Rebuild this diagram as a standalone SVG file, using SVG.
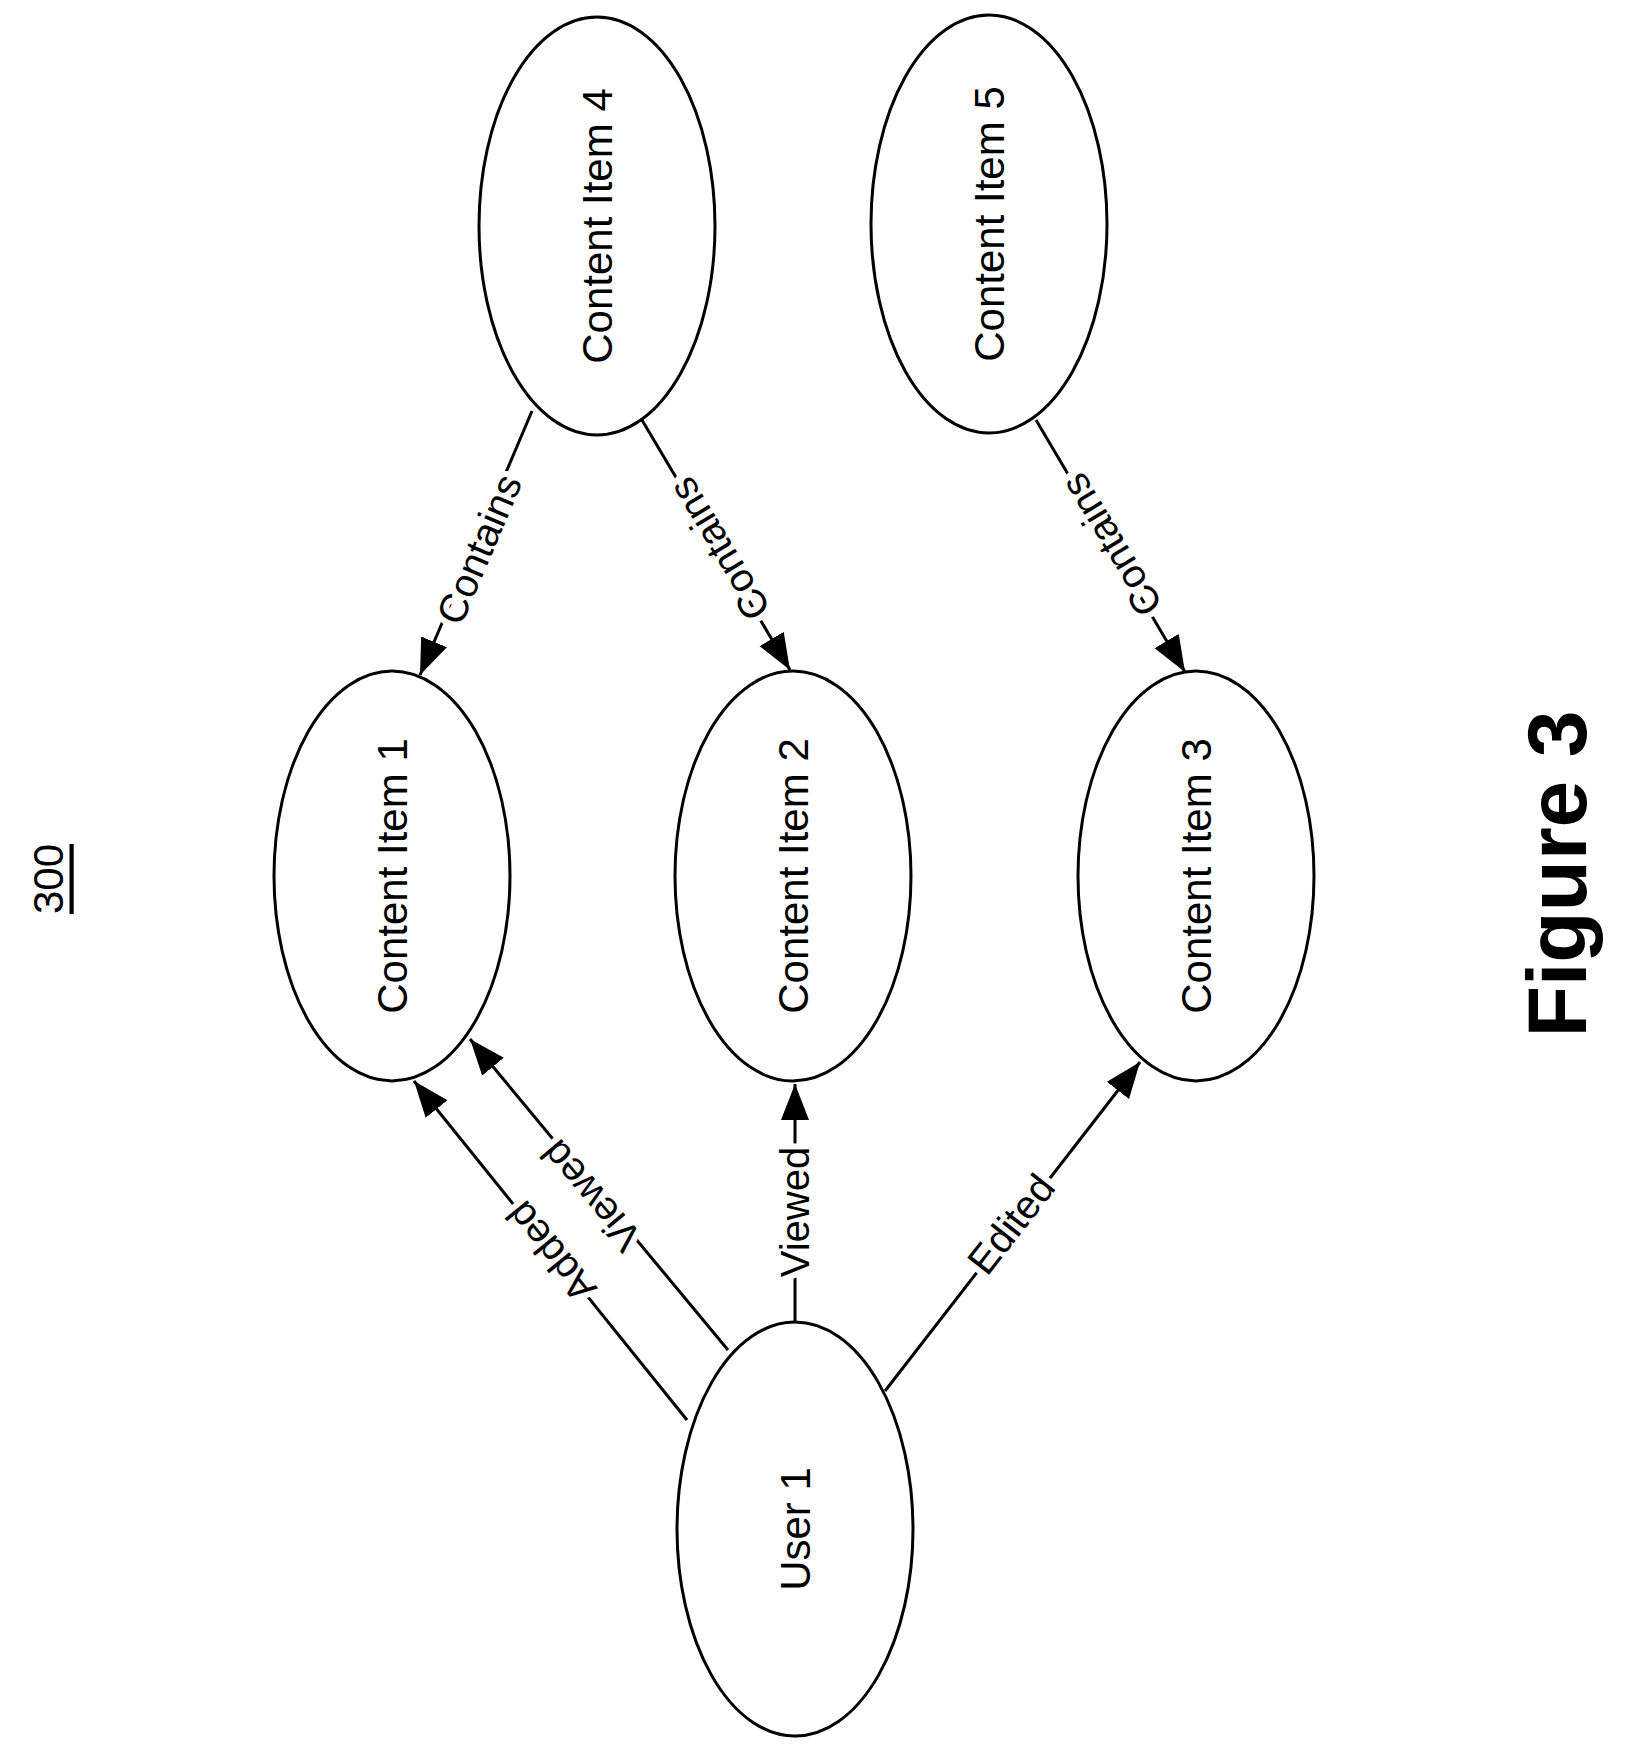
<svg xmlns="http://www.w3.org/2000/svg" width="1627" height="1756" viewBox="0 0 1627 1756">
<style>
.n{fill:#fff;stroke:#000;stroke-width:3}
.t{font-family:"Liberation Sans",Arial,sans-serif;font-size:42px;text-anchor:middle;dominant-baseline:central;fill:#000}
.e{stroke:#000;stroke-width:3;fill:none;marker-end:url(#a)}
.l{font-family:"Liberation Sans",Arial,sans-serif;font-size:40px;text-anchor:middle;dominant-baseline:central;fill:#000;stroke:#fff;stroke-width:12;paint-order:stroke}
</style>
<defs><marker id="a" markerUnits="userSpaceOnUse" markerWidth="40" markerHeight="30" refX="36" refY="14" orient="auto"><path d="M0,0 L36,14 L0,28 Z" fill="#000"/></marker></defs>
<rect width="1627" height="1756" fill="#fff"/>
<g id="edges">
<line class="e" x1="687" y1="1420" x2="414" y2="1081"/>
<line class="e" x1="728" y1="1350" x2="470" y2="1039"/>
<line class="e" x1="795" y1="1322" x2="795" y2="1084"/>
<line class="e" x1="885" y1="1391" x2="1140" y2="1062"/>
<line class="e" x1="532" y1="411" x2="420" y2="675"/>
<line class="e" x1="642" y1="420" x2="790" y2="670"/>
<line class="e" x1="1036" y1="420" x2="1185" y2="672"/>
<text class="l" transform="translate(551,1252) rotate(231)">Added</text>
<text class="l" transform="translate(591,1196) rotate(230)">Viewed</text>
<text class="l" transform="translate(795,1212) rotate(-90)">Viewed</text>
<text class="l" transform="translate(1011,1224) rotate(-52)">Edited</text>
<text class="l" transform="translate(479,549) rotate(-67)">Contains</text>
<text class="l" transform="translate(719,549) rotate(239)">Contains</text>
<text class="l" transform="translate(1111,545) rotate(239)">Contains</text>
</g>
<g id="user1"><ellipse class="n" cx="795" cy="1529" rx="118" ry="207"/><text class="t" transform="translate(795,1529) rotate(-90)">User 1</text></g>
<g id="ci1"><ellipse class="n" cx="392" cy="876" rx="118" ry="205"/><text class="t" transform="translate(392,876) rotate(-90)">Content Item 1</text></g>
<g id="ci2"><ellipse class="n" cx="793" cy="876" rx="118" ry="205"/><text class="t" transform="translate(793,876) rotate(-90)">Content Item 2</text></g>
<g id="ci3"><ellipse class="n" cx="1196" cy="876" rx="118" ry="205"/><text class="t" transform="translate(1196,876) rotate(-90)">Content Item 3</text></g>
<g id="ci4"><ellipse class="n" cx="597" cy="226" rx="118" ry="209"/><text class="t" transform="translate(597,226) rotate(-90)">Content Item 4</text></g>
<g id="ci5"><ellipse class="n" cx="989" cy="224" rx="118" ry="209"/><text class="t" transform="translate(989,224) rotate(-90)">Content Item 5</text></g>
<g id="label300"><text class="t" transform="translate(48,879) rotate(-90)" text-decoration="underline">300</text></g>
<g id="fig"><text transform="translate(1557,874) rotate(-90)" font-family="Liberation Sans,Arial,sans-serif" font-weight="bold" font-size="84" text-anchor="middle" dominant-baseline="central">Figure 3</text></g>
</svg>
